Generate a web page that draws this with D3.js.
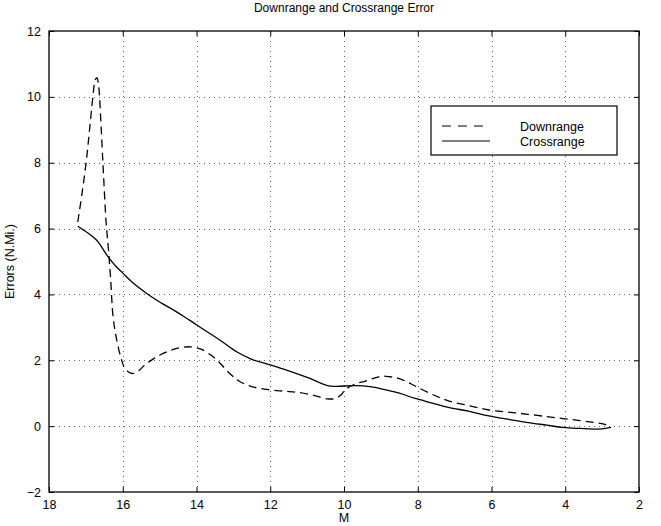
<!DOCTYPE html>
<html>
<head>
<meta charset="utf-8">
<script src="https://cdn.jsdelivr.net/npm/d3@7"></script>
<style>
  body { margin: 0; background: #fff; }
  text { font-family: "Liberation Sans", Arial, Helvetica, sans-serif; fill: #000; }
</style>
</head>
<body>
<div id="chart"></div>
<script>
var xTicks = [18, 16, 14, 12, 10, 8, 6, 4, 2];
var yTicks = [-2, 0, 2, 4, 6, 8, 10, 12];

var downX = [17.22, 17.1, 16.99, 16.9, 16.81, 16.75, 16.7, 16.66, 16.63, 16.54, 16.45, 16.39, 16.33, 16.26, 16.16, 16.03, 15.94, 15.8, 15.71, 15.55, 15.4, 15.2, 14.99, 14.75, 14.54, 14.35, 14.18, 14.0, 13.86, 13.6, 13.36, 13.1, 12.85, 12.5, 12.0, 11.6, 11.22, 10.8, 10.45, 10.25, 10.1, 9.95, 9.7, 9.42, 9.2, 8.97, 8.75, 8.52, 8.3, 8.07, 7.62, 7.17, 6.6, 6.07, 5.5, 5.01, 4.5, 4.06, 3.6, 3.21, 2.95, 2.8];
var downY = [6.2, 7.1, 8.04, 9.0, 10.0, 10.5, 10.58, 10.4, 10.0, 8.04, 6.17, 5.4, 4.5, 3.3, 2.6, 2.0, 1.75, 1.62, 1.6, 1.7, 1.86, 2.02, 2.16, 2.28, 2.36, 2.4, 2.41, 2.38, 2.33, 2.15, 1.91, 1.6, 1.37, 1.2, 1.1, 1.06, 1.02, 0.93, 0.83, 0.84, 0.93, 1.12, 1.28, 1.37, 1.45, 1.52, 1.5, 1.45, 1.35, 1.22, 0.97, 0.77, 0.62, 0.49, 0.42, 0.36, 0.29, 0.23, 0.17, 0.11, 0.06, -0.01];

var crossX = [17.22, 16.89, 16.72, 16.62, 16.41, 16.2, 15.99, 15.7, 15.35, 15.0, 14.63, 14.3, 13.99, 13.36, 12.9, 12.5, 12.0, 11.5, 11.0, 10.41, 10.2, 9.69, 9.3, 9.02, 8.5, 8.07, 7.6, 7.17, 6.6, 6.07, 5.5, 5.01, 4.5, 4.06, 3.6, 3.12, 2.9, 2.76];
var crossY = [6.07, 5.82, 5.66, 5.52, 5.16, 4.87, 4.64, 4.33, 4.03, 3.77, 3.53, 3.3, 3.07, 2.61, 2.25, 2.03, 1.86, 1.68, 1.48, 1.22, 1.21, 1.23, 1.2, 1.14, 1.0, 0.84, 0.7, 0.57, 0.45, 0.31, 0.2, 0.11, 0.03, -0.04, -0.07, -0.09, -0.07, -0.04];

var seriesNames = ["Downrange", "Crossrange"];

(function () {
    var width = 661, height = 526;
    var pLeft = 49, pRight = 639, pTop = 31, pBottom = 492;

    var svg = d3.select("#chart").append("svg")
        .attr("width", width)
        .attr("height", height);

    var x = d3.scaleLinear().domain([18, 2]).range([pLeft, pRight]);
    var y = d3.scaleLinear().domain([-2, 12]).range([pBottom, pTop]);

    // grid
    svg.append("g").selectAll("line")
        .data(xTicks.slice(1, -1))
        .enter().append("line")
        .attr("x1", function (d) { return Math.round(x(d)) + 0.5 })
        .attr("x2", function (d) { return Math.round(x(d)) + 0.5 })
        .attr("y1", pTop).attr("y2", pBottom)
        .attr("stroke", "#666").attr("stroke-width", 1)
        .attr("stroke-dasharray", "1,4");

    svg.append("g").selectAll("line")
        .data(yTicks.slice(1, -1))
        .enter().append("line")
        .attr("y1", function (d) { return Math.round(y(d)) + 0.5 })
        .attr("y2", function (d) { return Math.round(y(d)) + 0.5 })
        .attr("x1", pLeft).attr("x2", pRight)
        .attr("stroke", "#666").attr("stroke-width", 1)
        .attr("stroke-dasharray", "1,4");

    // axes, ticks inside like matlab
    svg.append("g")
        .attr("transform", "translate(0," + pBottom + ")")
        .call(d3.axisBottom(x).tickValues(xTicks).tickSizeInner(-5).tickSizeOuter(0).tickPadding(8))
        .call(function (g) {
            g.select(".domain").remove();
            g.selectAll("text").attr("font-size", 12.5);
        });
    svg.append("g")
        .attr("transform", "translate(0," + pTop + ")")
        .call(d3.axisTop(x).tickValues(xTicks).tickSizeInner(-5).tickSizeOuter(0).tickFormat(""))
        .call(function (g) { g.select(".domain").remove(); });
    svg.append("g")
        .attr("transform", "translate(" + pLeft + ",0)")
        .call(d3.axisLeft(y).tickValues(yTicks).tickSizeInner(-5).tickSizeOuter(0).tickPadding(8)
            .tickFormat(function (d) { return d < 0 ? "\u2212" + Math.abs(d) : d }))
        .call(function (g) {
            g.select(".domain").remove();
            g.selectAll("text").attr("font-size", 12.5);
        });
    svg.append("g")
        .attr("transform", "translate(" + pRight + ",0)")
        .call(d3.axisRight(y).tickValues(yTicks).tickSizeInner(-5).tickSizeOuter(0).tickFormat(""))
        .call(function (g) { g.select(".domain").remove(); });

    svg.append("rect")
        .attr("x", pLeft).attr("y", pTop)
        .attr("width", pRight - pLeft).attr("height", pBottom - pTop)
        .attr("fill", "none").attr("stroke", "#000").attr("stroke-width", 1.3);

    // lines
    var line = d3.line()
        .x(function (d) { return x(d[0]) })
        .y(function (d) { return y(d[1]) })
        .curve(d3.curveCatmullRom.alpha(0.5));

    svg.append("path")
        .datum(d3.zip(downX, downY))
        .attr("d", line)
        .attr("fill", "none").attr("stroke", "#000").attr("stroke-width", 1.3)
        .attr("stroke-dasharray", "8,5");

    svg.append("path")
        .datum(d3.zip(crossX, crossY))
        .attr("d", line)
        .attr("fill", "none").attr("stroke", "#000").attr("stroke-width", 1.3);

    // legend
    var lg = svg.append("g").attr("transform", "translate(431,106)");
    lg.append("rect")
        .attr("width", 186).attr("height", 49)
        .attr("fill", "#fff").attr("stroke", "#000").attr("stroke-width", 1.2);
    lg.selectAll(".item")
        .data(seriesNames)
        .enter().append("g")
        .each(function (d, i) {
            var g = d3.select(this);
            var yy = 20 + i * 15;
            g.append("line")
                .attr("x1", 11).attr("x2", i === 0 ? 53 : 59)
                .attr("y1", yy).attr("y2", yy)
                .attr("stroke", "#000").attr("stroke-width", 1.2)
                .attr("stroke-dasharray", i === 0 ? "9,7" : null);
            g.append("text")
                .attr("x", 89).attr("y", yy + 4.5)
                .attr("font-size", 12.5)
                .text(d);
        });

    // labels
    svg.append("text")
        .attr("x", (pLeft + pRight) / 2).attr("y", 12)
        .attr("text-anchor", "middle").attr("font-size", 12)
        .text("Downrange and Crossrange Error");

    svg.append("text")
        .attr("x", (pLeft + pRight) / 2).attr("y", 522)
        .attr("text-anchor", "middle").attr("font-size", 12.5)
        .text("M");

    svg.append("text")
        .attr("transform", "translate(14," + ((pTop + pBottom) / 2) + ") rotate(-90)")
        .attr("text-anchor", "middle").attr("font-size", 12.5)
        .text("Errors (N.Mi.)");
})();
</script>
</body>
</html>
